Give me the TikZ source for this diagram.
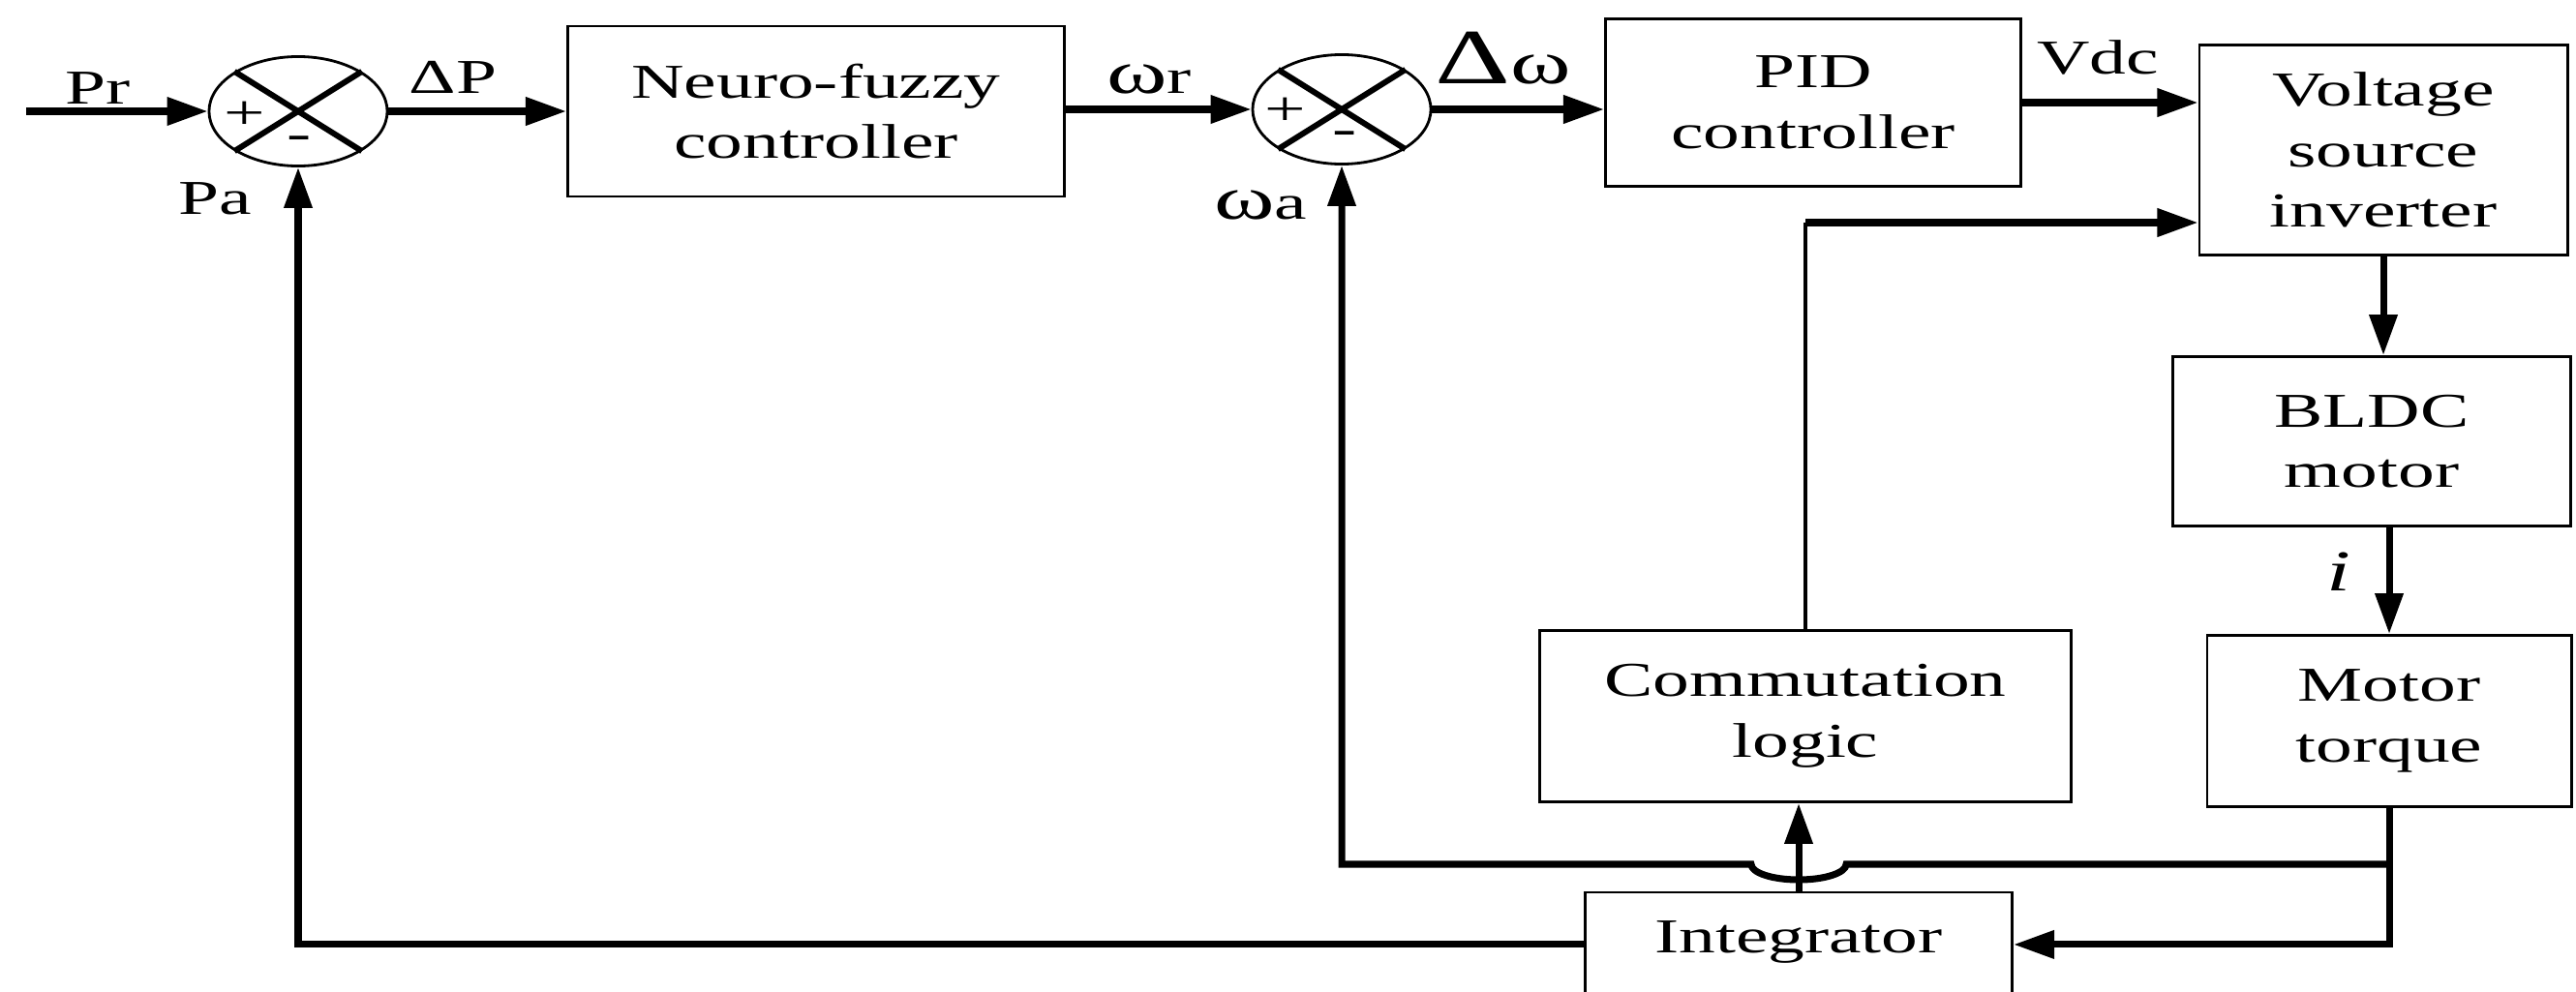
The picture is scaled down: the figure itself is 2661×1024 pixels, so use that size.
\documentclass[tikz,border=0pt]{standalone}
\usepackage{fontspec}
\setmainfont{Liberation Serif}[FakeStretch=1.5]
\usetikzlibrary{arrows.meta,shapes.geometric}
\newcommand{\bigw}{{\fontsize{18pt}{18pt}\selectfont ω}}

\begin{document}
\begin{tikzpicture}[
        x=0.01cm, y=-0.01cm,
        block/.style={rectangle, draw, line width=0.8pt, align=center, inner sep=0pt, font=\fontsize{14.3pt}{17.8pt}\selectfont},
        sum/.style={ellipse, draw, line width=0.8pt, minimum width=1.84cm, minimum height=1.13cm, inner sep=0pt},
        cross/.style={line width=1.7pt},
        arrow/.style={-{Triangle[length=0.42cm, width=0.28cm]}, line width=2pt},
        wire/.style={line width=2pt},
        lbl/.style={font=\fontsize{14.3pt}{17.8pt}\selectfont, inner sep=0pt}
    ]
        \useasboundingbox (0,0) rectangle (2661,1024);

        % === Blocks ===
        \coordinate (pr) at (27,115);
        \node[sum] (s1) at (308,115) {};
        \node[block, minimum width=5.13cm, minimum height=1.76cm] (nf) at (843,115) {Neuro-fuzzy\\controller};
        \node[sum] (s2) at (1386,113) {};
        \node[block, minimum width=4.29cm, minimum height=1.73cm] (pid) at (1873,106) {PID\\controller};
        \node[block, minimum width=3.80cm, minimum height=2.17cm] (vsi) at (2462,155) {Voltage\\source\\inverter};
        \node[block, minimum width=4.11cm, minimum height=1.75cm] (bldc) at (2450,456) {BLDC\\motor};
        \node[block, minimum width=3.76cm, minimum height=1.77cm] (mt) at (2468,745) {Motor\\torque};
        \node[block, minimum width=5.49cm, minimum height=1.77cm] (cl) at (1865,740) {Commutation\\logic};
        \node[block, anchor=base, minimum width=4.41cm, text height=0.62cm, text depth=0.6cm] (integ) at (1858,984) {Integrator};

        \foreach \s in {s1,s2} {
            \draw[cross] (\s.32) -- (\s.212);
            \draw[cross] (\s.148) -- (\s.328);
        }
        \node[lbl] (p1) at ([shift={(-55,4)}]s1.center) {+};
        \node[lbl] (m1) at ([shift={(1,33)}]s1.center) {-};
        \node[lbl] (p2) at ([shift={(-58,2)}]s2.center) {+};
        \node[lbl] (m2) at ([shift={(3,30)}]s2.center) {-};

        % === Labels ===
        \node[lbl] (lpr) at (101,91) {Pr};
        \node[lbl] (ldp) at (468,80) {ΔP};
        \node[lbl] (lpa) at (222,205) {Pa};
        \node[lbl] (lwr) at (1187,82) {\bigw r};
        \node[lbl] (ldw) at (1553,60) {{\fontsize{23pt}{23pt}\selectfont Δ}\bigw};
        \node[lbl] (lwa) at (1302,212) {\bigw a};
        \node[lbl] (lvdc) at (2167,59) {Vdc};
        \node[lbl, font=\fontsize{17pt}{17pt}\selectfont\itshape] (li) at (2416,591) {i};

        % === Forward path ===
        \draw[arrow] (pr) -- (s1.west);
        \draw[arrow] (s1.east) -- (nf.west);
        \draw[arrow] (nf.east |- s2.west) -- (s2.west);
        \draw[arrow] (s2.east) -- (s2.east -| pid.west);
        \draw[arrow] (pid.east) -- (pid.east -| vsi.west);
        \draw[arrow] (vsi.south) -- (vsi.south |- bldc.north);
        \draw[arrow] (bldc.south -| mt.north) -- (mt.north);

        % === Feedback ===
        \coordinate (jn) at (mt.south |- 0,893);
        \draw[wire] (mt.south) -- (jn);
        \draw[arrow] (jn) |- (integ.mid east);
        \draw[arrow] (jn) -- ([xshift=0.49cm]integ.north |- jn) arc[start angle=0, end angle=-180, x radius=0.49cm, y radius=0.16cm] -- (s2.south |- jn) -- (s2.south);
        \draw[arrow] (integ.north) -- (integ.north |- cl.south);
        \draw[arrow] (integ.mid west) -| (s1.south);
        \coordinate (cm) at (cl.north |- 0,230);
        \draw[line width=1.2pt] (cl.north) -- (cm);
        \draw[arrow] (cm) -- (vsi.west |- cm);
\end{tikzpicture}
\end{document}
